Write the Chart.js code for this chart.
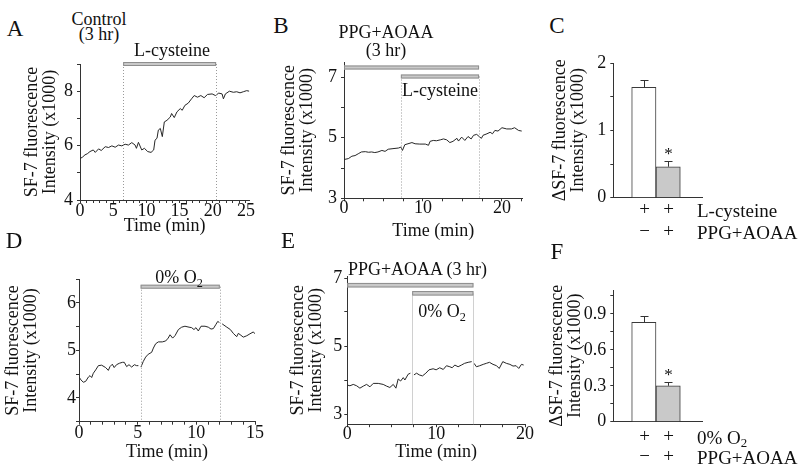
<!DOCTYPE html>
<html>
<head>
<meta charset="utf-8">
<script src="https://cdn.jsdelivr.net/npm/chart.js@4.4.1/dist/chart.umd.min.js"></script>
<style>
  body { margin: 0; background: #fff; }
  #fig { position: relative; width: 800px; height: 472px; overflow: hidden;
         font-family: 'Liberation Serif', 'Times New Roman', serif; color: #111; }
  #fig canvas { position: absolute; }
  .t { position: absolute; transform: translate(-50%, -50%); white-space: nowrap; font-size: 18px; line-height: 1; }
  .r { position: absolute; transform: translate(0, -50%); white-space: nowrap; font-size: 19px; line-height: 1; }
  .p { font-size: 23px; }
  sub { font-size: 0.68em; vertical-align: -0.3em; line-height: 0; }
</style>
</head>
<body>
<div id="fig">
  <canvas id="pA"></canvas>
  <canvas id="pB"></canvas>
  <canvas id="pC"></canvas>
  <canvas id="pD"></canvas>
  <canvas id="pE"></canvas>
  <canvas id="pF"></canvas>
</div>
<script>
// A: control, L-cysteine
const aTime = [0, 0.4, 0.75, 1.1, 1.5, 2.0, 2.3, 2.8, 3.2, 3.8, 4.3, 4.8, 5.3, 5.8, 6.3, 6.8, 7.3, 7.8, 8.3, 8.5,
  8.8, 9.3, 9.7, 10.2, 10.7, 11.1, 11.3, 11.6, 11.8, 12.1, 12.4, 12.7, 13.1, 13.6, 13.8, 14.2, 14.6, 15.1, 15.4, 15.8,
  16.3, 16.8, 17.2, 17.7, 18.2, 18.7, 19.2, 19.9, 20.4, 20.9, 21.4, 21.6, 21.9, 22.5, 23.1, 23.6, 24.1, 24.6, 25.1, 25.5];
const aSignal = [5.52, 5.58, 5.66, 5.7, 5.78, 5.84, 5.75, 5.88, 5.82, 5.96, 5.93, 5.99, 5.94, 6.02, 5.99, 6.05, 6.02, 6.11, 6.02, 5.9,
  6.12, 5.84, 5.9, 5.78, 5.75, 5.84, 6.2, 6.27, 6.57, 6.63, 6.33, 6.87, 6.93, 7.05, 7.18, 7.03, 7.24, 7.36, 7.3, 7.48,
  7.56, 7.72, 7.84, 7.78, 7.84, 7.76, 7.88, 7.9, 7.84, 7.93, 7.9, 7.72, 7.9, 8.0, 7.96, 7.98, 7.94, 7.98, 8.02, 8.0];
const aCysteine = [6.5, 20.5];

// B: PPG+AOAA pretreatment, L-cysteine
const bTime = [0, 0.55, 1.0, 1.4, 1.8, 2.2, 2.7, 3.1, 3.5, 3.9, 4.3, 4.8, 5.2, 5.6, 6.2, 6.9, 7.2, 7.4, 7.7, 8.1,
  8.6, 9.0, 9.6, 10.3, 10.7, 10.9, 11.3, 11.7, 12.2, 12.6, 13.0, 13.4, 13.8, 14.3, 14.5, 14.9, 15.3, 15.7, 16.1, 16.4,
  16.8, 17.2, 17.4, 17.6, 18.1, 18.5, 18.8, 19.1, 19.5, 20.0, 20.6, 21.2, 21.6, 22.1, 22.5];
const bSignal = [4.28, 4.31, 4.39, 4.41, 4.47, 4.53, 4.54, 4.52, 4.53, 4.51, 4.53, 4.58, 4.55, 4.62, 4.64, 4.66, 4.69, 4.58, 4.77, 4.8,
  4.84, 4.8, 4.79, 4.79, 4.75, 4.88, 4.91, 4.9, 4.93, 4.96, 4.93, 4.84, 4.88, 4.98, 4.89, 5.02, 4.91, 5.04, 4.96, 5.08,
  5.11, 5.02, 4.98, 5.08, 5.13, 5.18, 5.13, 5.24, 5.22, 5.33, 5.29, 5.29, 5.33, 5.24, 5.22];
const bPretreat = [0, 17.1];
const bCysteine = [7.2, 17.1];

// C: delta, L-cysteine
const cMean = [1.64, 0.46];
const cSem = [0.11, 0.09];
const cStar = [false, true];
const cRows = [['+', '+'], ['\u2212', '+']];

// D: control, 0% O2
const dTime = [0, 0.17, 0.37, 0.57, 0.8, 0.94, 1.08, 1.22, 1.42, 1.65, 1.93, 2.27, 2.5, 2.64, 2.84, 3.0, 3.2, 3.44, 3.7, 3.86,
  4.06, 4.26, 4.49, 4.72, 4.91, 5.06, 5.17, 5.28, 5.48, 5.68, 5.9, 6.19, 6.34, 6.53, 6.76, 7.1, 7.39, 7.6, 7.76, 7.98,
  8.18, 8.47, 8.75, 9.03, 9.38, 9.6, 9.8, 9.97, 10.17, 10.4, 10.74, 11.02, 11.25, 11.45, 11.65, 11.82, 11.96, 12.08, 12.2, 12.6,
  12.9, 13.15, 13.44, 13.58, 13.8, 14.0, 14.3, 14.57, 14.86, 15.0];
const dSignal = [4.44, 4.38, 4.33, 4.35, 4.44, 4.47, 4.43, 4.52, 4.59, 4.68, 4.69, 4.64, 4.58, 4.66, 4.71, 4.64, 4.70, 4.73, 4.75, 4.75,
  4.66, 4.70, 4.65, 4.70, 4.68, 4.68, null, 4.65, 4.77, 4.86, 4.92, 4.96, 5.05, 5.14, 5.18, 5.18, 5.20, 5.26, 5.33, 5.26,
  5.31, 5.44, 5.49, 5.51, 5.49, 5.48, 5.44, 5.48, 5.41, 5.51, 5.51, 5.49, 5.45, 5.46, 5.54, 5.61, 5.59, null, 5.56, 5.49,
  5.44, 5.36, 5.29, 5.36, 5.32, 5.28, 5.31, 5.35, 5.39, 5.35];
const dHypoxia = [5.25, 12.0];

// E: PPG+AOAA pretreatment, 0% O2
const eTime = [0, 0.3, 0.67, 1.05, 1.42, 1.8, 2.17, 2.55, 2.92, 3.48, 4.04, 4.42, 4.79, 5.17, 5.47, 5.73, 6.0, 6.3, 6.48, 6.85,
  7.1, 7.3, 7.5, 7.8, 8.1, 8.46, 8.84, 9.2, 9.66, 10.0, 10.4, 10.8, 11.16, 11.54, 11.8, 12.1, 12.47, 12.85, 13.2, 13.6,
  14.0, 14.15, 14.27, 14.53, 14.9, 15.3, 15.65, 16.0, 16.4, 16.8, 17.1, 17.5, 17.9, 18.3, 18.65, 19.0, 19.3, 19.6, 19.85];
const eSignal = [3.85, 3.83, 3.87, 3.83, 3.76, 3.82, 3.87, 3.80, 3.90, 3.90, 3.87, 3.82, 3.78, 3.87, 3.76, 4.03, 3.97, 4.07, 4.0, 4.17,
  4.2, null, 4.15, 4.2, 4.15, 4.12, 4.2, 4.3, 4.33, 4.3, 4.36, 4.31, 4.42, 4.39, 4.36, 4.44, 4.39, 4.44, 4.49, 4.52,
  4.54, null, 4.49, 4.39, 4.42, 4.46, 4.49, 4.52, 4.46, 4.42, 4.34, 4.54, 4.49, 4.46, 4.41, 4.42, 4.34, 4.46, 4.44];
const ePretreat = [0, 14.2];
const eHypoxia = [7.3, 14.2];

// F: delta, 0% O2
const fMean = [0.83, 0.30];
const fSem = [0.055, 0.035];
const fStar = [false, true];
const fRows = [['+', '+'], ['\u2212', '+']];

// tick labels
const aXMajor = [0, 5, 10, 15, 20, 25], aYMajor = [4, 6, 8];
const bXMajor = [0, 10, 20], bYMajor = [3, 5, 7];
const cYMajor = [0, 1, 2];
const dXMajor = [0, 5, 10, 15], dYMajor = [4, 5, 6];
const eXMajor = [0, 10, 20], eYMajor = [3, 5, 7];
const fYMajor = [0, 0.3, 0.6, 0.9];

const SF_TITLE = ['SF-7 fluorescence', 'Intensity (x1000)'];
const DSF_TITLE = ['\u0394SF-7 fluorescence', 'Intensity (x1000)'];

Chart.defaults.font.family = "'Liberation Serif', 'Times New Roman', serif";
Chart.defaults.color = '#111';

function steps(from, to, step, skip) {
  const out = [];
  for (let v = from; v <= to + 1e-9; v += step) {
    const r = Math.round(v * 1000) / 1000;
    if (!skip.includes(r)) out.push(r);
  }
  return out;
}

// canvas is placed so that the plot area lands on the given pixel box
function place(canvas, g) {
  const cl = Math.floor(g.left - g.yW - 4);
  const ct = Math.floor(g.top - 12);
  const cr = Math.ceil(g.right + g.padR);
  const cb = Math.ceil(g.bottom + g.xH + g.padB);
  canvas.width = cr - cl;
  canvas.height = cb - ct;
  canvas.style.left = cl + 'px';
  canvas.style.top = ct + 'px';
  return { left: g.left - g.yW - cl, top: g.top - ct, right: cr - g.right, bottom: cb - g.bottom - g.xH };
}

function axis(s, pad, size, dir) {
  const showLabels = s.labels !== false;
  return {
    type: 'linear', min: s.min, max: s.max, offset: false,
    afterBuildTicks: sc => { sc.ticks = s.major.concat(s.minor).sort((a, b) => a - b).map(v => ({ value: v })); },
    afterFit: sc => { if (dir === 'x') sc.height = size; else sc.width = size; },
    ticks: {
      display: showLabels, autoSkip: false, maxRotation: 0, minRotation: 0, padding: pad, color: '#111',
      font: { size: 18, lineHeight: 1 },
      callback: v => s.major.includes(v) ? String(v) : ''
    },
    grid: { display: true, drawOnChartArea: false, drawTicks: showLabels, tickLength: 3, color: '#333', offset: false },
    border: { display: true, color: '#333', width: 1 },
    title: { display: !!s.title, text: s.title, padding: 0, color: '#111', font: { size: 18, lineHeight: 1 } }
  };
}

// treatment bars above the trace and the dotted marks down to the axis
const periodPlugin = {
  id: 'periods',
  afterDatasetsDraw(chart, args, opts) {
    const ctx = chart.ctx, x = chart.scales.x, area = chart.chartArea;
    ctx.save();
    ctx.strokeStyle = opts.lineColor;
    ctx.lineWidth = 1;
    ctx.setLineDash(opts.dash);
    opts.lines.forEach(t => {
      const px = Math.round(x.getPixelForValue(t)) + 0.5;
      ctx.beginPath();
      ctx.moveTo(px, area.top + opts.lineFrom);
      ctx.lineTo(px, area.bottom);
      ctx.stroke();
    });
    ctx.setLineDash([]);
    opts.bars.forEach(b => {
      const x0 = x.getPixelForValue(b.span[0]), x1 = x.getPixelForValue(b.span[1]);
      const y = area.top + b.dy - b.h / 2;
      ctx.fillStyle = '#c9c9c9';
      ctx.fillRect(x0, y, x1 - x0, b.h);
      ctx.strokeStyle = '#8e8e8e';
      ctx.strokeRect(x0 + 0.5, y + 0.5, x1 - x0 - 1, b.h - 1);
    });
    ctx.restore();
  }
};

// error bars, asterisk and the +/- rows under the bars
const errorBarPlugin = {
  id: 'errorBars',
  afterDatasetsDraw(chart, args, opts) {
    const ctx = chart.ctx, x = chart.scales.x, y = chart.scales.y, area = chart.chartArea;
    ctx.save();
    ctx.strokeStyle = '#333';
    ctx.lineWidth = 1;
    ctx.fillStyle = '#111';
    ctx.textAlign = 'center';
    ctx.textBaseline = 'middle';
    opts.mean.forEach((m, i) => {
      const px = Math.round(x.getPixelForValue(i + 1)) + 0.5;
      const y0 = y.getPixelForValue(m), y1 = Math.round(y.getPixelForValue(m + opts.sem[i])) + 0.5;
      ctx.beginPath();
      ctx.moveTo(px, y0); ctx.lineTo(px, y1);
      ctx.moveTo(px - 4, y1); ctx.lineTo(px + 4, y1);
      ctx.stroke();
      if (opts.star[i]) {
        ctx.font = "17px 'Liberation Serif', serif";
        ctx.fillText('*', px, y1 - 7);
      }
      ctx.font = "19px 'Liberation Serif', serif";
      opts.rows.forEach((row, r) => ctx.fillText(row[i], px, area.bottom + opts.rowDy[r]));
    });
    ctx.restore();
  }
};

function traceChart(id, g, time, signal, xs, ys, periods) {
  const canvas = document.getElementById(id);
  const pad = place(canvas, g);
  return new Chart(canvas, {
    type: 'line',
    data: {
      datasets: [{
        data: time.map((t, i) => ({ x: t, y: signal[i] })),
        borderColor: '#262626', borderWidth: 1, pointRadius: 0, tension: 0, spanGaps: false
      }]
    },
    options: {
      responsive: false, animation: false, layout: { padding: pad },
      plugins: { legend: { display: false }, tooltip: { enabled: false }, periods: periods },
      scales: { x: axis(xs, g.xPad, g.xH, 'x'), y: axis(ys, g.yPad, g.yW, 'y') }
    },
    plugins: [periodPlugin]
  });
}

function barChart(id, g, mean, sem, star, rows, ys) {
  const canvas = document.getElementById(id);
  const pad = place(canvas, g);
  const xs = { min: g.xMin, max: g.xMax, major: [1, 2], minor: [], labels: false };
  return new Chart(canvas, {
    type: 'bar',
    data: {
      datasets: [{
        data: mean.map((v, i) => ({ x: i + 1, y: v })),
        backgroundColor: ['#ffffff', '#c9c9c9'], borderColor: '#3a3a3a', borderWidth: 1,
        barPercentage: 1, categoryPercentage: 1
      }]
    },
    options: {
      responsive: false, animation: false, layout: { padding: pad },
      plugins: { legend: { display: false }, tooltip: { enabled: false },
        errorBars: { mean: mean, sem: sem, star: star, rows: rows, rowDy: g.rowDy } },
      scales: { x: axis(xs, 0, g.xH, 'x'), y: axis(ys, g.yPad, g.yW, 'y') }
    },
    plugins: [errorBarPlugin]
  });
}

traceChart('pA',
  { left: 80, top: 63.5, right: 249.3, bottom: 200, yW: 56.5, xH: 35, padR: 14, padB: 4, xPad: -1, yPad: 4 },
  aTime, aSignal,
  { min: 0, max: 25.5, major: aXMajor, minor: steps(0, 25, 1, aXMajor), title: 'Time (min)' },
  { min: 4, max: 9, major: aYMajor, minor: [5, 7, 9], title: SF_TITLE },
  { lines: aCysteine, lineFrom: 0, lineColor: '#9a9a9a', dash: [1, 2],
    bars: [{ span: aCysteine, dy: 0, h: 4 }] });

traceChart('pB',
  { left: 344, top: 61.5, right: 522.5, bottom: 198.3, yW: 64, xH: 42, padR: 14, padB: 4, xPad: -2.3, yPad: 4 },
  bTime, bSignal,
  { min: 0, max: 22.6, major: bXMajor, minor: steps(0, 22.5, 2.5, bXMajor), title: 'Time (min)' },
  { min: 3, max: 7.5, major: bYMajor, minor: [4, 6], title: SF_TITLE },
  { lines: bCysteine, lineFrom: 14.5, lineColor: '#9a9a9a', dash: [1, 2],
    bars: [{ span: bPretreat, dy: 5.5, h: 4 }, { span: bCysteine, dy: 14.5, h: 4 }] });

barChart('pC',
  { left: 613.3, top: 62.3, right: 702, bottom: 197.7, yW: 62.3, xH: 4, padR: 98, padB: 45, yPad: 4,
    xMin: -0.257, xMax: 3.393, rowDy: [12.3, 34.3] },
  cMean, cSem, cStar, cRows,
  { min: 0, max: 2, major: cYMajor, minor: [0.5, 1.5], title: DSF_TITLE });

traceChart('pD',
  { left: 79, top: 279.2, right: 255, bottom: 421.7, yW: 75, xH: 40, padR: 14, padB: 4, xPad: -0.2, yPad: 0 },
  dTime, dSignal,
  { min: 0, max: 15, major: dXMajor, minor: steps(0, 15, 1, dXMajor), title: 'Time (min)' },
  { min: 3.5, max: 6.5, major: dYMajor, minor: [3.5, 4.5, 5.5, 6.5], title: SF_TITLE },
  { lines: dHypoxia, lineFrom: 7.5, lineColor: '#9a9a9a', dash: [1, 2],
    bars: [{ span: dHypoxia, dy: 7.5, h: 4 }] });

traceChart('pE',
  { left: 347.3, top: 276.3, right: 525, bottom: 424.2, yW: 57.8, xH: 37.5, padR: 14, padB: 4, xPad: -1.7, yPad: 2 },
  eTime, eSignal,
  { min: 0, max: 20, major: eXMajor, minor: steps(0, 20, 2.5, eXMajor), title: 'Time (min)' },
  { min: 2.7, max: 7.05, major: eYMajor, minor: [4, 6], title: SF_TITLE },
  { lines: eHypoxia, lineFrom: 17, lineColor: '#d0d0d0', dash: [],
    bars: [{ span: ePretreat, dy: 8.9, h: 4.5 }, { span: eHypoxia, dy: 17, h: 4.5 }] });

barChart('pF',
  { left: 613.3, top: 289.4, right: 702, bottom: 421.7, yW: 65.3, xH: 4, padR: 98, padB: 45, yPad: 4,
    xMin: -0.257, xMax: 3.393, rowDy: [15, 35] },
  fMean, fSem, fStar, fRows,
  { min: 0, max: 1.1, major: fYMajor, minor: [0.15, 0.45, 0.75, 1.05], title: DSF_TITLE });

// panel letters, condition labels and row names
const texts = [
  ['A', 15, 28, 't p'], ['B', 281, 25, 't p'], ['C', 557, 25, 't p'],
  ['D', 14, 240, 't p'], ['E', 288, 240, 't p'], ['F', 557, 251, 't p'],
  ['Control', 99, 18.5, 't'], ['(3 hr)', 99, 34, 't'], ['L-cysteine', 172, 49.5, 't'],
  ['PPG+AOAA', 386, 31.5, 't'], ['(3 hr)', 386, 49.5, 't'], ['L-cysteine', 440, 89.5, 't'],
  ['0% O<sub>2</sub>', 179, 277, 't'], ['PPG+AOAA (3 hr)', 417.5, 268.5, 't'], ['0% O<sub>2</sub>', 442, 310.5, 't'],
  ['L-cysteine', 697, 210, 'r'], ['PPG+AOAA', 697, 232, 'r'],
  ['0% O<sub>2</sub>', 697, 436.7, 'r'], ['PPG+AOAA', 697, 456.7, 'r']
];
const fig = document.getElementById('fig');
texts.forEach(([html, x, y, cls]) => {
  const div = document.createElement('div');
  div.className = cls;
  div.innerHTML = html;
  div.style.left = x + 'px';
  div.style.top = y + 'px';
  fig.appendChild(div);
});
</script>
</body>
</html>
